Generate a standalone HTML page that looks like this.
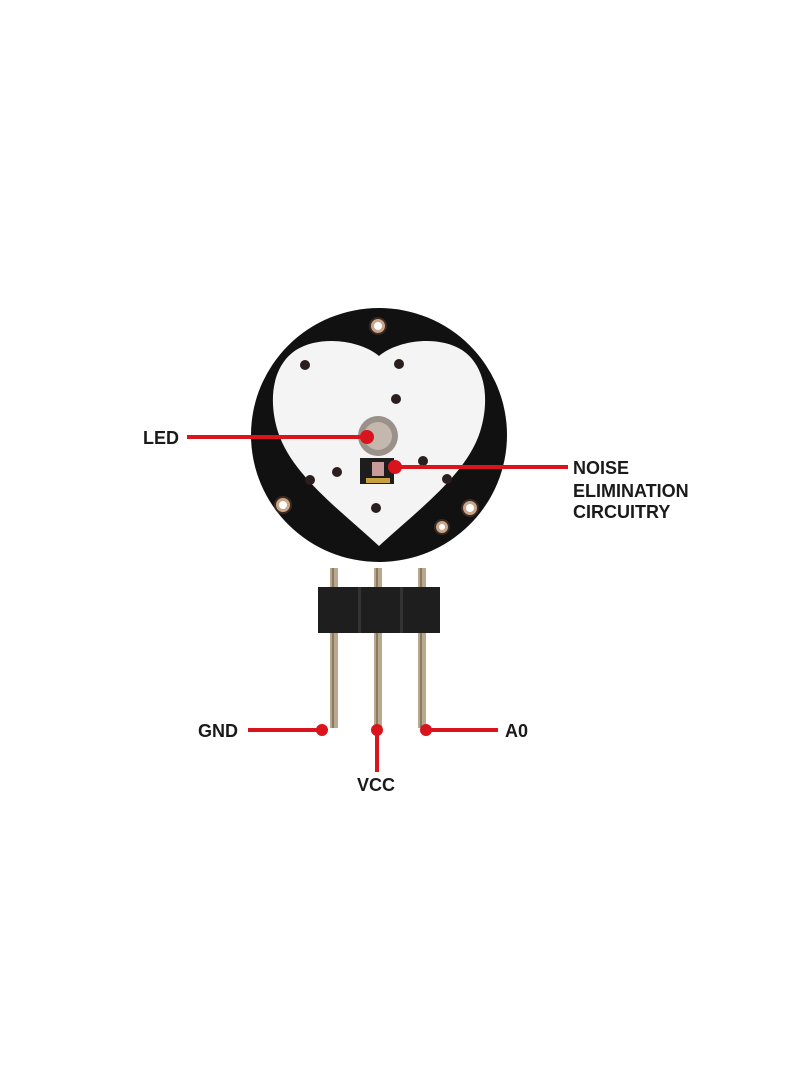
<!DOCTYPE html>
<html><head><meta charset="utf-8"><style>
html,body{margin:0;padding:0;background:#fff;}
svg{display:block}
text{font-family:"Liberation Sans",sans-serif;font-weight:bold;fill:#1a1a1a;font-size:18px}
</style></head><body>
<svg width="810" height="1080" viewBox="0 0 810 1080" xmlns="http://www.w3.org/2000/svg">
<rect width="810" height="1080" fill="#fff"/>
<!-- pins behind -->
<rect x="330" y="568" width="8" height="160" fill="#b8a88e"/>
<rect x="374" y="568" width="8" height="160" fill="#b8a88e"/>
<rect x="418" y="568" width="8" height="160" fill="#b8a88e"/>
<rect x="332" y="568" width="2" height="160" fill="#8a7a62"/>
<rect x="376" y="568" width="2" height="160" fill="#8a7a62"/>
<rect x="420" y="568" width="2" height="160" fill="#8a7a62"/>
<!-- board -->
<ellipse cx="379" cy="435" rx="128" ry="127" fill="#111"/>
<path d="M379,356 C360,340 320,335 296,350 C272,366 268,400 278,432 C292,475 340,510 379,546 C418,510 466,475 480,432 C490,400 486,366 462,350 C438,335 398,340 379,356 Z" fill="#f4f4f4"/>
<!-- holes -->
<g fill="#c9a58a" stroke="#3a2a20" stroke-width="2">
<circle cx="378" cy="326" r="8"/><circle cx="283" cy="505" r="8"/>
<circle cx="470" cy="508" r="8"/><circle cx="442" cy="527" r="7"/>
</g>
<g fill="#fff"><circle cx="378" cy="326" r="4"/><circle cx="283" cy="505" r="4"/><circle cx="470" cy="508" r="4"/><circle cx="442" cy="527" r="3"/></g>
<g fill="#2a1e1e">
<circle cx="305" cy="365" r="5"/><circle cx="399" cy="364" r="5"/><circle cx="396" cy="399" r="5"/>
<circle cx="423" cy="461" r="5"/><circle cx="337" cy="472" r="5"/><circle cx="310" cy="480" r="5"/>
<circle cx="447" cy="479" r="5"/><circle cx="376" cy="508" r="5"/>
</g>
<circle cx="378" cy="436" r="20" fill="#9a918a"/><circle cx="378" cy="436" r="14" fill="#c4b8ae"/>
<rect x="360" y="458" width="34" height="26" fill="#1d1d1d"/>
<rect x="372" y="462" width="12" height="14" fill="#c89a9a"/>
<rect x="366" y="478" width="24" height="5" fill="#c8a040"/>
<!-- header -->
<rect x="318" y="587" width="122" height="46" fill="#1e1e1e"/>
<rect x="358" y="587" width="3" height="46" fill="#333"/><rect x="400" y="587" width="3" height="46" fill="#333"/>
<!-- connectors -->
<g stroke="#d9141c" stroke-width="4" fill="none">
<line x1="187" y1="437" x2="367" y2="437"/>
<line x1="395" y1="467" x2="568" y2="467"/>
<line x1="248" y1="730" x2="322" y2="730"/>
<line x1="377" y1="730" x2="377" y2="772"/>
<line x1="426" y1="730" x2="498" y2="730"/>
</g>
<g fill="#d9141c">
<circle cx="367" cy="437" r="7"/><circle cx="395" cy="467" r="7"/>
<circle cx="322" cy="730" r="6"/><circle cx="377" cy="730" r="6"/><circle cx="426" cy="730" r="6"/>
</g>
<text x="143" y="444">LED</text>
<text x="573" y="474">NOISE</text>
<text x="573" y="497">ELIMINATION</text>
<text x="573" y="518">CIRCUITRY</text>
<text x="198" y="737">GND</text>
<text x="505" y="737">A0</text>
<text x="357" y="791">VCC</text>
</svg>
</body></html>
